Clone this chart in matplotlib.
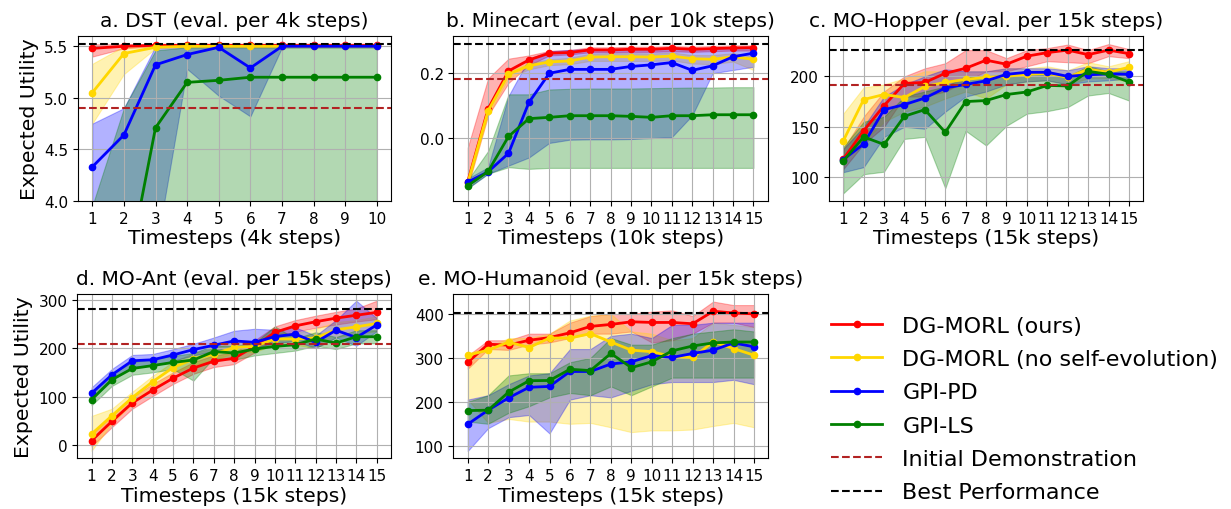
import numpy as np
import matplotlib
matplotlib.use("Agg")
import matplotlib.pyplot as plt

# ---- data ----
LABELS = ["DG-MORL (ours)", "DG-MORL (no self-evolution)", "GPI-PD", "GPI-LS"]
COLORS = ["red", "gold", "blue", "green"]

# a. DST
dst_x = np.arange(1, 11)
dst_mean = [[5.48, 5.50, 5.51, 5.51, 5.51, 5.51, 5.51, 5.51, 5.51, 5.51],
            [5.05, 5.43, 5.49, 5.50, 5.50, 5.50, 5.50, 5.50, 5.50, 5.50],
            [4.33, 4.64, 5.32, 5.42, 5.49, 5.29, 5.50, 5.50, 5.50, 5.50],
            [2.50, 3.13, 4.71, 5.15, 5.17, 5.20, 5.20, 5.20, 5.20, 5.20]]
dst_lo = [[5.40, 5.48, 5.50, 5.50, 5.50, 5.50, 5.50, 5.50, 5.50, 5.50],
          [4.75, 5.23, 5.48, 5.49, 5.49, 5.49, 5.49, 5.49, 5.49, 5.49],
          [3.00, 3.30, 3.50, 5.28, 5.02, 4.82, 5.49, 5.49, 5.49, 5.49],
          [2.00, 2.00, 2.00, 2.00, 2.00, 2.00, 2.00, 2.00, 2.00, 2.00]]
dst_hi = [[5.52, 5.52, 5.52, 5.52, 5.52, 5.52, 5.52, 5.52, 5.52, 5.52],
          [5.33, 5.50, 5.52, 5.51, 5.51, 5.51, 5.51, 5.51, 5.51, 5.51],
          [4.75, 4.90, 5.50, 5.50, 5.50, 5.50, 5.50, 5.50, 5.50, 5.50],
          [3.95, 4.90, 5.46, 5.49, 5.49, 5.49, 5.49, 5.49, 5.49, 5.49]]
dst_init, dst_best = 4.90, 5.52

# b. Minecart
mc_x = np.arange(1, 16)
mc_mean = [[-0.136, 0.09, 0.207, 0.241, 0.262, 0.264, 0.272, 0.272, 0.274, 0.274, 0.277, 0.274, 0.276, 0.278, 0.279],
           [-0.140, 0.084, 0.197, 0.223, 0.235, 0.238, 0.250, 0.251, 0.251, 0.250, 0.253, 0.245, 0.243, 0.251, 0.243],
           [-0.136, -0.104, -0.047, 0.110, 0.200, 0.212, 0.212, 0.212, 0.221, 0.226, 0.233, 0.209, 0.223, 0.251, 0.262],
           [-0.147, -0.103, 0.005, 0.060, 0.064, 0.069, 0.069, 0.069, 0.067, 0.064, 0.069, 0.069, 0.072, 0.072, 0.072]]
mc_lo = [[-0.15, 0.07, 0.17, 0.225, 0.255, 0.258, 0.265, 0.265, 0.266, 0.266, 0.268, 0.266, 0.268, 0.270, 0.270],
         [-0.15, 0.07, 0.185, 0.212, 0.225, 0.228, 0.238, 0.238, 0.238, 0.238, 0.240, 0.230, 0.228, 0.236, 0.210],
         [-0.155, -0.11, -0.085, -0.06, -0.015, -0.005, -0.004, -0.004, -0.003, 0.000, 0.003, 0.070, 0.200, 0.210, 0.220],
         [-0.155, -0.11, -0.09, -0.095, -0.092, -0.092, -0.092, -0.092, -0.092, -0.092, -0.092, -0.092, -0.092, -0.092, -0.092]]
mc_hi = [[-0.03, 0.184, 0.245, 0.255, 0.269, 0.272, 0.280, 0.280, 0.282, 0.282, 0.284, 0.282, 0.284, 0.286, 0.286],
         [-0.12, 0.10, 0.205, 0.232, 0.243, 0.248, 0.260, 0.262, 0.262, 0.261, 0.264, 0.256, 0.256, 0.262, 0.252],
         [-0.125, -0.09, 0.13, 0.245, 0.268, 0.272, 0.275, 0.275, 0.276, 0.277, 0.278, 0.275, 0.276, 0.280, 0.282],
         [-0.13, -0.04, 0.135, 0.135, 0.150, 0.152, 0.153, 0.153, 0.153, 0.154, 0.155, 0.156, 0.156, 0.157, 0.157]]
mc_init, mc_best = 0.182, 0.291

# c. MO-Hopper
hop_x = np.arange(1, 16)
hop_mean = [[118, 146, 171, 193, 194, 203, 208, 216, 212, 220, 223.5, 226, 221.5, 226, 222.5],
            [136, 177, 182, 179, 190, 194, 197, 199, 200, 202, 203, 199, 207, 204, 209],
            [117.5, 133, 167, 172, 178.5, 188.5, 192, 195.5, 202, 204, 204, 200, 201.5, 202.5, 202],
            [116, 140, 132.5, 160.5, 167, 144.5, 175, 176, 182, 184.5, 191, 190.5, 205, 202, 194.5]]
hop_lo = [[108, 133, 150, 180, 180, 185, 195, 205, 205, 210, 215, 214, 213, 220, 218],
          [118, 135, 155, 165, 170, 178, 185, 178, 192, 195, 196, 192, 198, 198, 195],
          [105, 110, 140, 150, 148, 165, 180, 185, 192, 195, 196, 192, 195, 196, 198],
          [84, 103, 105.5, 138, 140, 89, 146, 131.5, 151, 163, 165.5, 169.5, 181, 183.5, 176]]
hop_hi = [[128, 160, 185, 200, 208, 213, 226, 226, 218, 226, 228, 231.5, 226, 232, 227],
          [163, 189, 192, 198, 205, 205, 205, 205, 208, 208, 210, 206, 214, 210, 215],
          [128, 150, 180, 192, 200, 207, 205, 205, 208, 208, 208, 206, 210, 208, 208],
          [130, 155, 160, 180, 185, 190, 200, 200, 202, 205, 205, 200, 210, 205, 205]]
hop_init, hop_best = 191, 225.8

# d. MO-Ant
ant_x = np.arange(1, 16)
ant_mean = [[9, 49, 87, 113.5, 138, 159, 173, 179, 203.7, 232.6, 246, 254.6, 262, 268, 274],
            [22.7, 60.5, 98, 130.7, 160, 177.5, 188, 201.6, 203.7, 219, 219, 221, 238, 244, 251],
            [107, 145, 174, 176, 186, 197, 206, 215, 212, 224, 229, 212, 237, 222, 248],
            [93.6, 135, 158, 164, 170.6, 175.5, 193, 190, 198, 203.7, 207, 219, 210.5, 223.6, 223.6]]
ant_lo = [[-3, 37, 75, 101, 126, 147, 161, 167, 191, 220, 234, 242, 249, 255, 260],
          [-12, 45, 85, 118, 148, 165, 176, 190, 192, 207, 207, 200, 222, 230, 235],
          [95, 133, 162, 164, 174, 185, 194, 203, 200, 210, 215, 200, 222, 205, 235],
          [82, 122, 145, 150, 157, 133, 180, 176, 185, 190, 195, 205, 198, 210, 210]]
ant_hi = [[21, 61, 99, 126, 150, 171, 185, 191, 216, 245, 258, 267, 275, 282, 298],
          [60, 75, 110, 143, 172, 190, 200, 213, 215, 231, 231, 240, 254, 258, 266],
          [119, 157, 186, 188, 198, 209, 222, 236, 240, 238, 243, 226, 258, 298, 262],
          [106, 148, 171, 178, 184, 190, 206, 204, 211, 245, 220, 233, 223, 237, 237]]
ant_init, ant_best = 208.5, 280.7

# e. MO-Humanoid
hum_x = np.arange(1, 16)
hum_mean = [[289.7, 331, 329, 340, 346, 357, 371.5, 376, 382, 380.5, 380.5, 377.5, 406, 402, 400],
            [306, 317.5, 336, 323.5, 345, 345, 355, 336, 317.5, 314, 302.5, 301, 336, 321, 306],
            [149, 181, 209, 233, 235, 269, 269, 286, 291, 305, 301, 310, 317.5, 334, 325],
            [180, 181, 222, 248, 248.5, 274, 271, 310, 277.7, 291, 316, 327, 334, 336, 336]]
hum_lo = [[275, 320, 318, 330, 335, 345, 355, 355, 360, 335, 340, 355, 380, 380, 370],
          [205, 152, 161, 155, 155, 150, 152, 142, 131, 135, 135, 137, 145, 152, 142],
          [88, 140, 165, 170, 128, 205, 215, 210, 225, 240, 245, 245, 245, 250, 240],
          [155, 150, 175, 190, 210, 220, 215, 235, 215, 235, 255, 255, 255, 255, 255]]
hum_hi = [[305, 340, 340, 355, 355, 380, 395, 400, 400, 405, 408, 395, 428, 420, 420],
          [310, 325, 345, 345, 355, 385, 396, 400, 360, 355, 340, 345, 380, 375, 370],
          [205, 215, 240, 260, 265, 320, 320, 350, 355, 345, 375, 375, 380, 380, 380],
          [200, 215, 260, 265, 265, 290, 300, 345, 330, 330, 345, 355, 360, 365, 360]]
hum_best = 402

# ---- figure ----
fig = plt.figure(figsize=(12.31, 5.10), dpi=100)
ax_a = fig.add_axes([0.0634, 0.604, 0.2543, 0.3235])
ax_b = fig.add_axes([0.3683, 0.604, 0.2554, 0.3235])
ax_c = fig.add_axes([0.6734, 0.604, 0.2553, 0.3235])
ax_d = fig.add_axes([0.0628, 0.0994, 0.2548, 0.3220])
ax_e = fig.add_axes([0.3683, 0.0994, 0.2559, 0.3220])

def panel(ax, x, mean, lo, hi, title, xlabel, init=None, best=None, ylabel=False):
    for m, l, h, c, lab in zip(mean, lo, hi, COLORS, LABELS):
        ax.fill_between(x, l, h, color=c, alpha=0.3, linewidth=0.8)
        ax.plot(x, m, "-o", color=c, lw=2, ms=4.5, label=lab)
    if init is not None:
        ax.axhline(init, color="firebrick", ls="--", lw=1.5, label="Initial Demonstration")
    if best is not None:
        ax.axhline(best, color="black", ls="--", lw=1.5, label="Best Performance")
    ax.set_xticks(x)
    ax.tick_params(labelsize=11)
    ax.grid(True)
    ax.set_title(title, fontsize=14.5, pad=7)
    ax.set_xlabel(xlabel, fontsize=14.7, labelpad=2)
    if ylabel:
        ax.set_ylabel("Expected Utility", fontsize=14.7)

panel(ax_a, dst_x, dst_mean, dst_lo, dst_hi, "a. DST (eval. per 4k steps)", "Timesteps (4k steps)", dst_init, dst_best, True)
ax_a.set_ylim(4.0, 5.6)
ax_a.set_yticks([4.0, 4.5, 5.0, 5.5])
panel(ax_b, mc_x, mc_mean, mc_lo, mc_hi, "b. Minecart (eval. per 10k steps)", "Timesteps (10k steps)", mc_init, mc_best)
ax_b.set_ylim(-0.194, 0.315)
ax_b.set_yticks([0.0, 0.2])
panel(ax_c, hop_x, hop_mean, hop_lo, hop_hi, "c. MO-Hopper (eval. per 15k steps)", "Timesteps (15k steps)", hop_init, hop_best)
ax_c.set_ylim(76.5, 240)
ax_c.set_yticks([100, 150, 200])
panel(ax_d, ant_x, ant_mean, ant_lo, ant_hi, "d. MO-Ant (eval. per 15k steps)", "Timesteps (15k steps)", ant_init, ant_best, True)
ax_d.set_ylim(-27.5, 311.7)
ax_d.set_yticks([0, 100, 200, 300])
panel(ax_e, hum_x, hum_mean, hum_lo, hum_hi, "e. MO-Humanoid (eval. per 15k steps)", "Timesteps (15k steps)", None, hum_best)
ax_e.set_ylim(71.5, 445)
ax_e.set_yticks([100, 200, 300, 400])

handles, labels = ax_d.get_legend_handles_labels()
fig.legend(handles, labels, loc="center left", bbox_to_anchor=(0.659, 0.196), fontsize=16,
           frameon=False, handlelength=2.3, handletextpad=0.9, labelspacing=0.6)

fig.savefig("out.png", dpi=100)
